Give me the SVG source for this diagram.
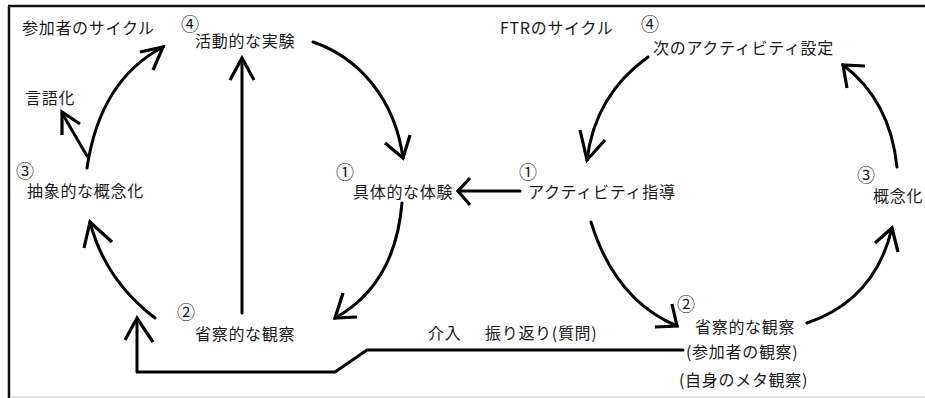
<svg xmlns="http://www.w3.org/2000/svg" width="925" height="398" viewBox="0 0 925 398">
<style>
text{font-family:"Noto Sans CJK JP","Noto Sans",sans-serif;fill:#1a1a1a;font-size:16px;letter-spacing:0.7px}
text.n{font-size:18px;letter-spacing:0}
.c{fill:none;stroke:#000;stroke-width:3;stroke-linecap:round;stroke-linejoin:round}
.h{fill:none;stroke:#000;stroke-width:3.2;stroke-linecap:butt;stroke-linejoin:miter}
</style>
<rect x="0" y="0" width="925" height="398" fill="#fff"/>
<g id="frame">
<path d="M9,6 V398" stroke="#111" stroke-width="2.5" fill="none"/>
<path d="M8,6 H925" stroke="#111" stroke-width="2.5" fill="none"/>
<path d="M10,397 H925" stroke="#ddd" stroke-width="1.5" fill="none"/>
</g>
<g id="title-left"><text x="22" y="34">参加者のサイクル</text></g>
<g id="title-right"><text x="500" y="34">FTRのサイクル</text></g>
<g id="node-active-exp"><text class="n" x="181" y="31">④</text><text x="195" y="47">活動的な実験</text></g>
<g id="node-verbalize"><text x="25" y="104">言語化</text></g>
<g id="node-abstract"><text class="n" x="16" y="178">③</text><text x="27" y="197">抽象的な概念化</text></g>
<g id="node-reflect-left"><text class="n" x="177" y="319">②</text><text x="195" y="340">省察的な観察</text></g>
<g id="node-concrete"><text class="n" x="336" y="179">①</text><text x="353" y="198">具体的な体験</text></g>
<g id="node-activity-lead"><text class="n" x="519" y="179">①</text><text x="528" y="198">アクティビティ指導</text></g>
<g id="node-next-activity"><text class="n" x="641" y="31">④</text><text x="653" y="54">次のアクティビティ設定</text></g>
<g id="node-concept"><text class="n" x="857" y="182">③</text><text x="873" y="202">概念化</text></g>
<g id="node-reflect-right"><text class="n" x="677" y="311">②</text><text x="695" y="333">省察的な観察</text><text x="686" y="358">(参加者の観察)</text><text x="679" y="386">(自身のメタ観察)</text></g>
<g id="label-intervene"><text x="428" y="339">介入</text><text x="485" y="339">振り返り(質問)</text></g>
<g id="connectors">
<path class="c" d="M87,168 Q100,80 163,47"/><path class="h" d="M140,52 L163,47 L153,70"/>
<path class="c" d="M87,156 L62,113"/><path class="h" d="M62,135 L62,112 L80,124"/>
<path class="c" d="M242,313 L242,58"/><path class="h" d="M230,80 L242,58 L254,80"/>
<path class="c" d="M313,42 C360,58 395,100 403,158"/><path class="h" d="M385,143 L403,158 L410,135"/>
<path class="c" d="M402,203 Q395,285 335,318"/><path class="h" d="M343,293 L335,318 L357,317"/>
<path class="c" d="M155,318 Q105,280 90,222"/><path class="h" d="M84,248 L90,222 L112,242"/>
<path class="c" d="M683,350 L367,350 L335,372 L137,372 L137,320"/><path class="h" d="M125,340 L137,318 L153,342"/>
<path class="c" d="M648,57 Q595,95 587,160"/><path class="h" d="M580,130 L587,160 L605,140"/>
<path class="c" d="M591,222 Q615,300 677,326"/><path class="h" d="M655,327 L677,326 L672,304"/>
<path class="c" d="M807,323 Q875,300 892,228"/><path class="h" d="M875,243 L892,228 L898,252"/>
<path class="c" d="M897,167 Q890,100 843,65"/><path class="h" d="M865,66 L843,65 L847,88"/>
<path class="c" d="M520,191 L458,191"/><path class="h" d="M470,178 L458,191 L470,205"/>
</g>
</svg>
